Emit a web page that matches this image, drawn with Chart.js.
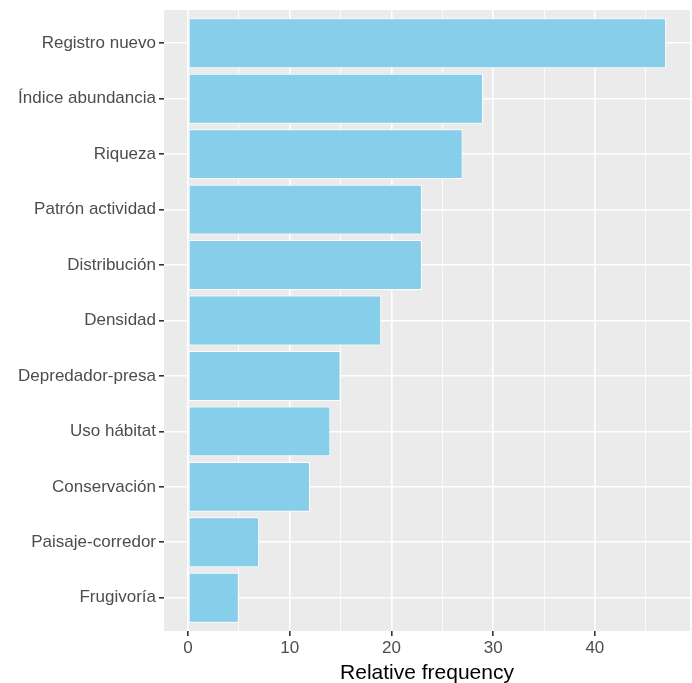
<!DOCTYPE html>
<html>
<head>
<meta charset="utf-8">
<script src="https://cdn.jsdelivr.net/npm/chart.js@4"></script>
<style>
  html, body { margin: 0; padding: 0; background: #fff; }
  #wrap { width: 692px; height: 683px; }
</style>
</head>
<body>
<div id="wrap"><canvas id="c"></canvas></div>
<script>
// datos (de arriba hacia abajo)
const categories = [
  "Registro nuevo", "Índice abundancia", "Riqueza", "Patrón actividad",
  "Distribución", "Densidad", "Depredador-presa", "Uso hábitat",
  "Conservación", "Paisaje-corredor", "Frugivoría"
];
const frequencies = [47, 29, 27, 23, 23, 19, 15, 14, 12, 7, 5];
const xMajor = [0, 10, 20, 30, 40];
const xMinor = [5, 15, 25, 35, 45];

const FONT = "'Liberation Sans', Arial, sans-serif";

// fondo gris del panel estilo ggplot
const panelBg = {
  id: "panelBg",
  beforeDraw(chart) {
    const { ctx, chartArea: a } = chart;
    ctx.save();
    ctx.fillStyle = "#EBEBEB";
    ctx.fillRect(a.left, a.top, a.right - a.left, a.bottom - a.top);
    ctx.restore();
  }
};

const isMajor = c => c.tick && xMajor.includes(c.tick.value);

new Chart(document.getElementById("c"), {
  type: "bar",
  data: {
    datasets: [{
      data: frequencies.map((v, i) => ({ x: v, y: i })),
      backgroundColor: "#87CEEB",
      borderColor: "#FFFFFF",
      borderWidth: 1,
      borderSkipped: false,
      categoryPercentage: 0.9,
      barPercentage: 1
    }]
  },
  options: {
    indexAxis: "y",
    responsive: true,
    maintainAspectRatio: false,
    animation: false,
    layout: { padding: { top: 10, right: 2, left: 0, bottom: 0 } },
    plugins: { legend: { display: false }, tooltip: { enabled: false } },
    scales: {
      x: {
        type: "linear",
        min: -2.35, max: 49.35,
        afterBuildTicks: s => { s.ticks = [...xMajor, ...xMinor].sort((a, b) => a - b).map(v => ({ value: v })); },
        afterFit: s => { s.height = 52; },
        ticks: {
          autoSkip: false, maxRotation: 0, padding: 2,
          color: "#4D4D4D", font: { family: FONT, size: 17 },
          callback: v => xMajor.includes(v) ? String(v) : ""
        },
        grid: {
          color: "#FFFFFF",
          lineWidth: c => isMajor(c) ? 1.6 : 0.8,
          tickColor: c => isMajor(c) ? "#333333" : "rgba(0,0,0,0)",
          tickLength: 5, drawTicks: true
        },
        border: { display: false },
        title: {
          display: true, text: "Relative frequency", color: "#000",
          font: { family: FONT, size: 21 }, padding: { top: 4, bottom: -3 }
        }
      },
      y: {
        type: "linear",
        reverse: true,
        offset: false,
        min: -0.6, max: 10.6,
        afterBuildTicks: s => { s.ticks = categories.map((_, i) => ({ value: i })); },
        afterFit: s => { s.width = 164; s.paddingTop = 0; s.paddingBottom = 0; },
        ticks: {
          autoSkip: false, padding: 3,
          color: "#4D4D4D", font: { family: FONT, size: 17 },
          callback: v => categories[v]
        },
        grid: { offset: false, color: "#FFFFFF", lineWidth: 1.6, tickColor: "#333333", tickLength: 5 },
        border: { display: false }
      }
    }
  },
  plugins: [panelBg]
});
</script>
</body>
</html>
